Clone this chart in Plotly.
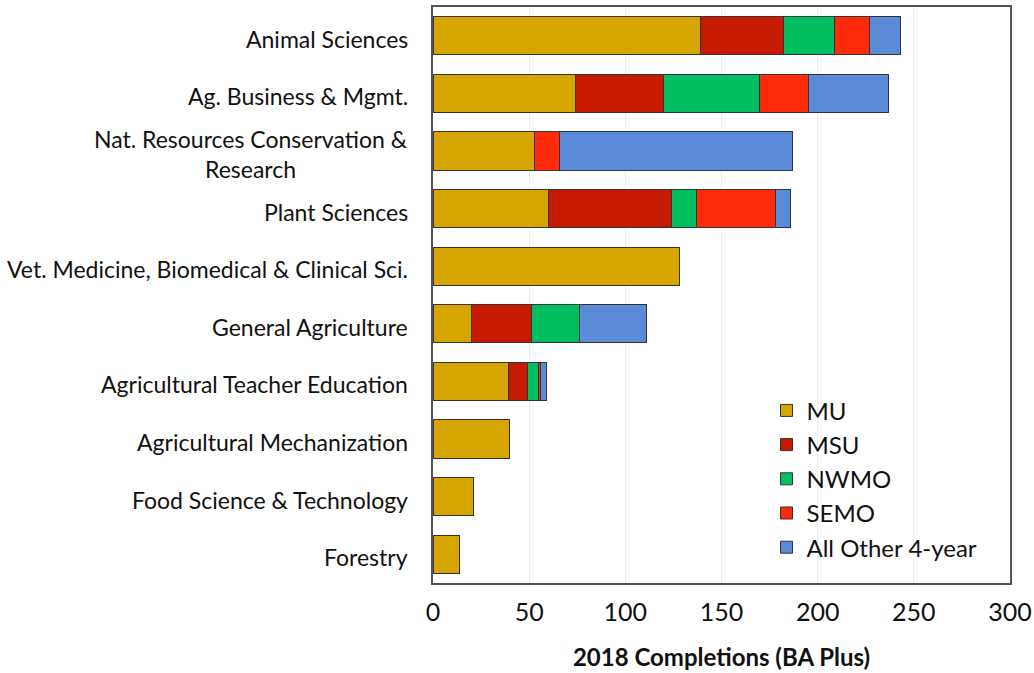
import plotly.graph_objects as go

categories = [
    "Animal Sciences",
    "Ag. Business & Mgmt.",
    "Nat. Resources Conservation &<br>Research",
    "Plant Sciences",
    "Vet. Medicine, Biomedical & Clinical Sci.",
    "General Agriculture",
    "Agricultural Teacher Education",
    "Agricultural Mechanization",
    "Food Science & Technology",
    "Forestry",
]

mu = [139, 74, 53, 60, 128, 20, 39, 40, 21, 14]
msu = [43, 46, 0, 64, 0, 31, 10, 0, 0, 0]
nwmo = [27, 50, 0, 13, 0, 25, 6, 0, 0, 0]
semo = [18, 25, 13, 41, 0, 0, 1, 0, 0, 0]
other = [16, 42, 121, 8, 0, 35, 3, 0, 0, 0]

series = [
    ("MU", mu, "#D6A500"),
    ("MSU", msu, "#C81A00"),
    ("NWMO", nwmo, "#00BF63"),
    ("SEMO", semo, "#FF2A0A"),
    ("All Other 4-year", other, "#5B8AD8"),
]

x_ticks = [0, 50, 100, 150, 200, 250, 300]

FONT = "Lato, 'Open Sans', sans-serif"

fig = go.Figure()
for i, (name, vals, color) in enumerate(series):
    fig.add_trace(go.Bar(
        y=categories, x=vals, name=name, orientation="h",
        marker=dict(color=color, line=dict(color="#333333", width=1)),
        legendgroup=f"g{i}",
    ))

for c in categories:
    fig.add_annotation(
        x=-0.039, xref="paper", y=c, yref="y", text=c, yshift=-3,
        xanchor="right", yanchor="middle", align="center", showarrow=False,
        font=dict(family=FONT, size=23, color="#111111"),
    )

fig.update_layout(
    width=1034, height=673,
    margin=dict(l=433, r=24, t=7, b=90),
    paper_bgcolor="white", plot_bgcolor="white",
    barmode="stack", bargap=0.34,
    font=dict(family=FONT, color="#111111"),
    showlegend=True,
    legend=dict(
        x=0.578, y=0.338, xanchor="left", yanchor="top",
        traceorder="normal", tracegroupgap=12,
        font=dict(family=FONT, size=24, color="#111111"),
        bgcolor="rgba(0,0,0,0)", itemwidth=30,
    ),
    xaxis=dict(
        range=[0, 300], tickvals=x_ticks, ticktext=[str(v) for v in x_ticks],
        tickfont=dict(family=FONT, size=25, color="#111111"),
        showgrid=True, gridcolor="#EEEEEE", gridwidth=1,
        showline=True, linecolor="#555555", linewidth=1.5, mirror=True,
        ticks="outside", ticklen=6, tickcolor="rgba(0,0,0,0)", zeroline=False,
        automargin=False,
        title=dict(text="<b>2018 Completions (BA Plus)</b>",
                   font=dict(family=FONT, size=24, color="#111111"), standoff=24),
    ),
    yaxis=dict(
        autorange="reversed", showticklabels=False, automargin=False,
        showline=True, linecolor="#555555", linewidth=1.5, mirror=True,
        showgrid=False, ticks="",
    ),
)

fig.write_html(
    "out.html",
    config={"displayModeBar": False},
    post_script="document.body.style.margin='0';document.body.style.overflow='hidden';",
)
